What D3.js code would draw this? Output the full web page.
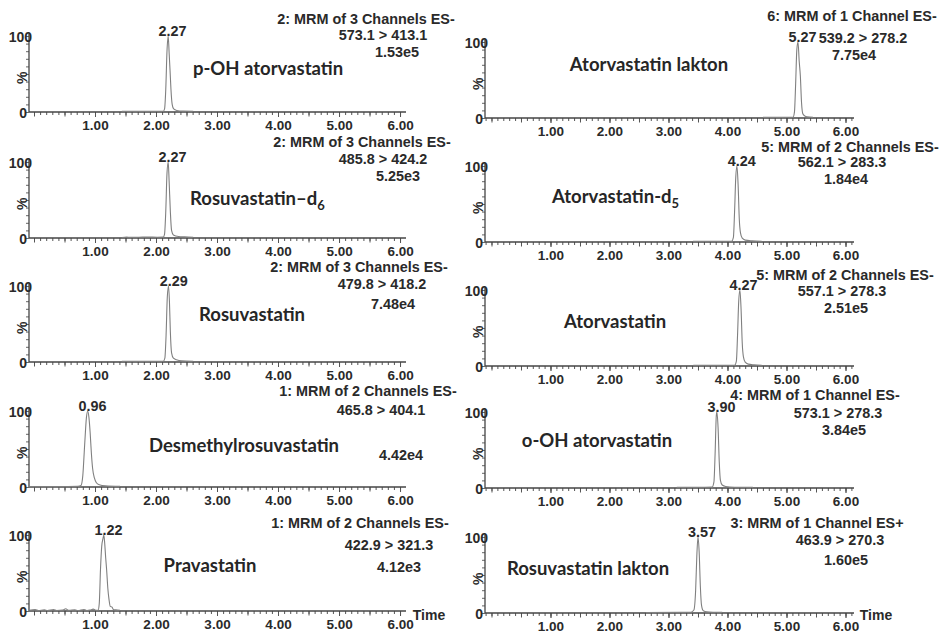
<!DOCTYPE html>
<html>
<head>
<meta charset="utf-8">
<script src="https://cdn.jsdelivr.net/npm/d3@7"></script>
<style>
  html, body { margin: 0; padding: 0; background: #fff; }
  svg { display: block; }
  .hdr { font-family: "Liberation Sans", Arial, sans-serif; font-weight: bold; font-size: 14.4px; fill: #2a2a2a; }
  .ylab { font-family: "Liberation Sans", Arial, sans-serif; font-weight: bold; font-size: 14px; fill: #2a2a2a; }
  .cmp { font-family: Lato, "Open Sans", sans-serif; font-weight: bold; font-size: 18.5px; fill: #262626; }
  .tick text { font-family: "Liberation Sans", Arial, sans-serif; font-weight: bold; font-size: 13.5px; fill: #2a2a2a; }
</style>
</head>
<body>
<script>
// ---------------- DATA ----------------
const compounds = ["p-OH atorvastatin", "Rosuvastatin\u2013d", "Rosuvastatin", "Desmethylrosuvastatin", "Pravastatin",
                   "Atorvastatin lakton", "Atorvastatin-d", "Atorvastatin", "o-OH atorvastatin", "Rosuvastatin lakton"];
const compoundSubs = ["", "6", "", "", "", "", "5", "", "", ""];
const headers = ["2: MRM of 3 Channels ES-", "2: MRM of 3 Channels ES-", "2: MRM of 3 Channels ES-", "1: MRM of 2 Channels ES-", "1: MRM of 2 Channels ES-",
                 "6: MRM of 1 Channel ES-", "5: MRM of 2 Channels ES-", "5: MRM of 2 Channels ES-", "4: MRM of 1 Channel ES-", "3: MRM of 1 Channel ES+"];
const transitions = ["573.1 > 413.1", "485.8 > 424.2", "479.8 > 418.2", "465.8 > 404.1", "422.9 > 321.3",
                     "539.2 > 278.2", "562.1 > 283.3", "557.1 > 278.3", "573.1 > 278.3", "463.9 > 270.3"];
const intensities = ["1.53e5", "5.25e3", "7.48e4", "4.42e4", "4.12e3",
                     "7.75e4", "1.84e4", "2.51e5", "3.84e5", "1.60e5"];
const peakTimes = [2.27, 2.27, 2.29, 0.96, 1.22, 5.27, 4.24, 4.27, 3.90, 3.57];
const xTickValues = [1, 2, 3, 4, 5, 6];
const yTickLabels = ["0", "100"];

// chromatogram traces as drawn: [time on axis (min), relative intensity (%)]
const trace_pOH = [[1.44,0.8],[1.8,0.8],[2.05,0.9],[2.12,1],[2.14,4],[2.16,30],[2.18,80],[2.20,100],[2.215,78],[2.23,55],[2.245,30],[2.265,10],[2.29,4],[2.34,2],[2.45,1.2],[2.61,1]];
const trace_rosuD6 = [[1.44,0.6],[1.52,1.4],[1.57,0.8],[1.72,1],[1.87,1.4],[2.02,1],[2.12,1.2],[2.14,5],[2.16,35],[2.18,85],[2.20,100],[2.215,75],[2.235,35],[2.255,10],[2.285,4],[2.37,2],[2.47,1.5],[2.61,1]];
const trace_rosu = [[1.44,0.8],[1.9,0.8],[2.12,1],[2.145,5],[2.165,35],[2.185,85],[2.205,100],[2.22,80],[2.235,40],[2.255,12],[2.285,5],[2.335,3],[2.42,1.5],[2.61,1]];
const trace_desm = [[-0.08,0.5],[0.4,0.5],[0.72,0.8],[0.77,2],[0.80,15],[0.83,55],[0.86,92],[0.88,100],[0.90,92],[0.92,72],[0.94,45],[0.96,25],[0.99,12],[1.02,6],[1.07,3],[1.17,1.5],[1.41,0.8]];
const trace_prava = [[-0.08,1],[0.02,2],[0.07,0.5],[0.17,1.5],[0.22,0.5],[0.32,1.8],[0.37,0.6],[0.47,1.2],[0.52,3],[0.57,0.8],[0.67,1.5],[0.72,0.6],[0.82,2],[0.87,0.5],[0.92,1.2],[0.97,2.5],[1.02,0.8],[1.05,1],[1.07,10],[1.09,55],[1.11,85],[1.13,95],[1.145,100],[1.16,88],[1.175,70],[1.19,55],[1.21,30],[1.23,15],[1.25,6],[1.28,5],[1.30,2],[1.34,1.5],[1.41,1]];
const trace_atoLak = [[4.60,0.8],[4.9,0.8],[5.11,1],[5.135,8],[5.155,45],[5.175,90],[5.195,100],[5.215,75],[5.235,55],[5.255,20],[5.275,6],[5.305,3],[5.35,1.5],[5.45,1]];
const trace_atoD5 = [[3.415,0.8],[3.9,1],[4.07,1],[4.10,6],[4.12,40],[4.14,85],[4.16,100],[4.18,75],[4.20,30],[4.22,12],[4.25,5],[4.30,2.5],[4.42,1.5],[4.58,1]];
const trace_ato = [[3.42,0.8],[3.9,1],[4.12,1],[4.15,6],[4.17,40],[4.19,85],[4.21,100],[4.23,75],[4.25,30],[4.27,12],[4.30,5],[4.35,2.5],[4.45,1.5],[4.58,1]];
const trace_oOH = [[3.14,0.8],[3.6,1],[3.74,1.2],[3.77,8],[3.79,45],[3.81,95],[3.82,100],[3.84,80],[3.86,35],[3.88,10],[3.91,4],[3.97,2],[4.12,1],[4.43,0.8]];
const trace_rosuLak = [[2.62,0.5],[3.2,0.8],[3.38,1],[3.43,4],[3.46,30],[3.48,75],[3.50,100],[3.52,80],[3.54,35],[3.56,10],[3.59,3],[3.65,1.5],[3.78,1],[3.91,0.8]];
const traces = [trace_pOH, trace_rosuD6, trace_rosu, trace_desm, trace_prava, trace_atoLak, trace_atoD5, trace_ato, trace_oOH, trace_rosuLak];

// ---------------- LAYOUT ----------------
const W = 942, H = 633;
const cols = [
  { x0: 29, x1: 406, domain: [-0.082, 6.098], baselines: [112, 238, 362, 487, 611] },
  { x0: 485, x1: 854, domain: [-0.11, 6.144], baselines: [118, 242, 366, 488, 613] }
];
const plotH = 76;
// [x, y, anchor] (y = text baseline) for: header, transition, intensity, compound
const textPos = [
  [[366, 24], [383, 40], [397, 57], [268, 75]],
  [[362, 147], [383, 164], [398, 181], [190, 205, "start"]],
  [[359, 272], [382, 289], [393, 309], [252, 321]],
  [[368, 396], [381, 415], [401, 460], [244, 452]],
  [[360, 528], [389, 550], [399, 572], [210, 572]],
  [[852, 21], [863, 43], [854, 60], [649, 71]],
  [[850, 152], [842, 167], [846, 184], [552, 203, "start"]],
  [[845, 280], [842, 296], [846, 313], [615, 328]],
  [[815, 400], [838, 418], [844, 435], [597, 447]],
  [[817, 528], [840, 545], [846, 565], [588, 575]]
];

const svg = d3.select("body").append("svg").attr("width", W).attr("height", H);
const line = d3.line().curve(d3.curveMonotoneX);

traces.forEach((tr, i) => {
  const c = cols[i < 5 ? 0 : 1];
  const row = i % 5;
  const base = c.baselines[row];
  const x = d3.scaleLinear().domain(c.domain).range([c.x0, c.x1]);
  const y = d3.scaleLinear().domain([0, 100]).range([base, base - plotH]);
  const g = svg.append("g");

  // x axis: minor ticks every 0.1, medium every 0.5
  const minor = d3.range(Math.ceil(c.domain[0] * 10), Math.floor(c.domain[1] * 10) + 1).map(d => d / 10);
  g.append("g").attr("transform", `translate(0,${base})`)
    .call(d3.axisBottom(x).tickValues(minor).tickSize(3).tickFormat(""))
    .call(s => s.select(".domain").remove())
    .call(s => s.selectAll("line").attr("stroke", "#555"));
  g.append("g").attr("transform", `translate(0,${base})`)
    .call(d3.axisBottom(x).tickValues(minor.filter(d => Math.abs(d * 2 - Math.round(d * 2)) < 1e-6)).tickSize(4.5).tickFormat(""))
    .call(s => s.select(".domain").remove())
    .call(s => s.selectAll("line").attr("stroke", "#555"));
  g.append("g").attr("transform", `translate(0,${base})`)
    .call(d3.axisBottom(x).tickValues(xTickValues).tickSize(5).tickPadding(3.5).tickFormat(d3.format(".2f")))
    .call(s => s.select(".domain").remove())
    .call(s => s.selectAll("line").attr("stroke", "#555"));
  g.append("line").attr("x1", c.x0).attr("x2", c.x1).attr("y1", base).attr("y2", base)
    .attr("stroke", "#444").attr("stroke-width", 1.3);

  // y axis
  g.append("g").attr("transform", `translate(${c.x0},0)`)
    .call(d3.axisLeft(y).tickValues(d3.range(0, 101, 10)).tickSize(3).tickFormat(""))
    .call(s => s.select(".domain").remove())
    .call(s => s.selectAll("line").attr("stroke", "#666"));
  g.append("line").attr("x1", c.x0).attr("x2", c.x0).attr("y1", base).attr("y2", y(103))
    .attr("stroke", "#444").attr("stroke-width", 1.3);
  g.append("text").attr("class", "ylab").attr("x", c.x0 + 3).attr("y", y(100) + 6).attr("text-anchor", "end").text(yTickLabels[1]);
  g.append("text").attr("class", "ylab").attr("x", c.x0 - 2).attr("y", base + 6).attr("text-anchor", "end").text(yTickLabels[0]);
  g.append("text").attr("class", "ylab").attr("transform", `translate(${c.x0 - 2},${y(45)}) rotate(-90)`)
    .attr("text-anchor", "middle").text("%");

  // trace
  g.append("path").datum(tr.map(d => [x(d[0]), y(d[1])])).attr("d", line)
    .attr("fill", "none").attr("stroke", "#808080").attr("stroke-width", 1.1);

  // peak label
  g.append("text").attr("class", "hdr").attr("x", x(peakTimes[i])).attr("y", y(100))
    .attr("text-anchor", "middle").text(peakTimes[i].toFixed(2));

  // info texts
  const p = textPos[i];
  g.append("text").attr("class", "hdr").attr("x", p[0][0]).attr("y", p[0][1]).attr("text-anchor", "middle").text(headers[i]);
  g.append("text").attr("class", "hdr").attr("x", p[1][0]).attr("y", p[1][1]).attr("text-anchor", "middle").text(transitions[i]);
  g.append("text").attr("class", "hdr").attr("x", p[2][0]).attr("y", p[2][1]).attr("text-anchor", "middle").text(intensities[i]);
  const t = g.append("text").attr("class", "cmp").attr("x", p[3][0]).attr("y", p[3][1]).attr("text-anchor", p[3][2] || "middle");
  t.append("tspan").text(compounds[i]);
  if (compoundSubs[i]) t.append("tspan").attr("font-size", 13).attr("dy", 5).text(compoundSubs[i]);
});

// Time labels
svg.append("text").attr("class", "ylab").attr("x", 429).attr("y", 620).attr("text-anchor", "middle").text("Time");
svg.append("text").attr("class", "ylab").attr("x", 876).attr("y", 620).attr("text-anchor", "middle").text("Time");
</script>
</body>
</html>
